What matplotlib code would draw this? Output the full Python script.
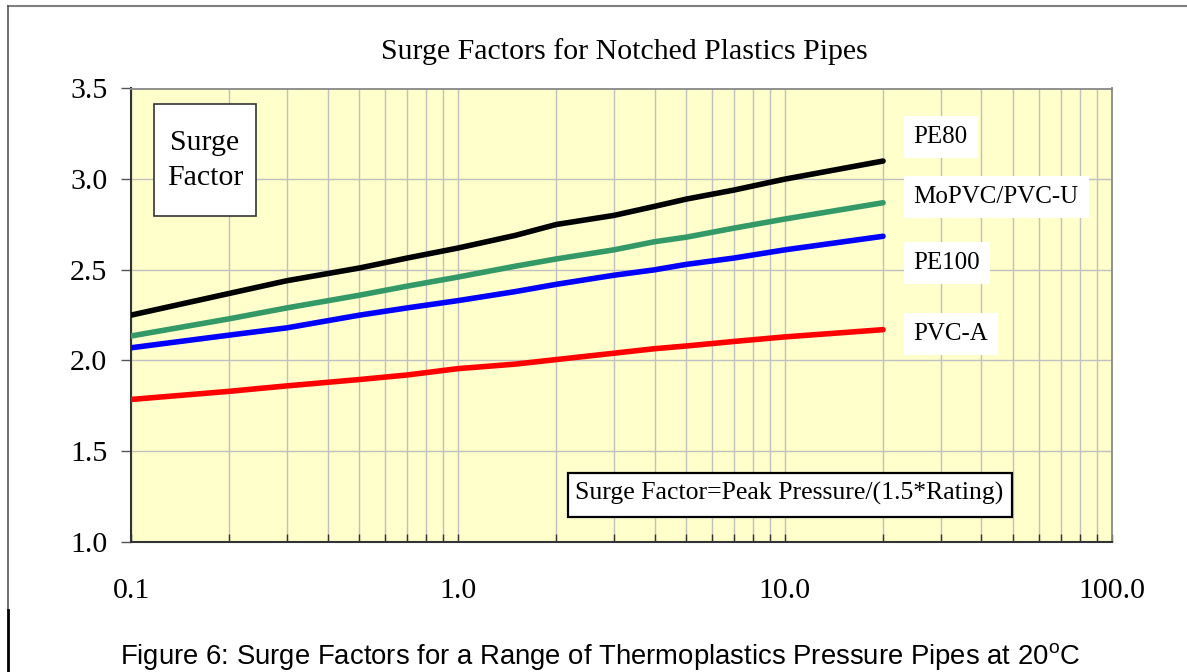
import matplotlib
matplotlib.use("Agg")
import matplotlib.pyplot as plt
from matplotlib.patches import Rectangle
from matplotlib.lines import Line2D
from matplotlib.ticker import LogLocator, FixedLocator, FuncFormatter, NullFormatter

# ---- data ----
pressure_ratio = [0.1, 0.2, 0.3, 0.5, 0.7, 1.0, 1.5, 2, 3, 4, 5, 7, 10, 20]
pe80 = [2.25, 2.37, 2.44, 2.51, 2.565, 2.62, 2.69, 2.75, 2.80, 2.85, 2.89, 2.94, 3.00, 3.10]
mopvc = [2.135, 2.23, 2.29, 2.36, 2.41, 2.46, 2.52, 2.56, 2.61, 2.655, 2.68, 2.73, 2.78, 2.87]
pe100 = [2.07, 2.14, 2.18, 2.25, 2.29, 2.33, 2.38, 2.42, 2.47, 2.50, 2.53, 2.565, 2.61, 2.685]
pvca = [1.785, 1.83, 1.86, 1.895, 1.92, 1.955, 1.98, 2.005, 2.04, 2.065, 2.08, 2.105, 2.13, 2.17]
series_names = ["PE80", "MoPVC/PVC-U", "PE100", "PVC-A"]
series_values = [pe80, mopvc, pe100, pvca]
series_colors = ["#000000", "#339966", "#0000FF", "#FF0000"]
label_y = [3.23, 2.90, 2.54, 2.145]
x_ticks = [0.1, 1.0, 10.0, 100.0]
y_ticks = [1.0, 1.5, 2.0, 2.5, 3.0, 3.5]

serif = "Liberation Serif"

fig = plt.figure(figsize=(11.87, 6.72), dpi=100)
ax = fig.add_axes([131 / 1187, 1 - 541.8 / 672, 980.5 / 1187, 453.3 / 672])
ax.set_facecolor("#FFFFCC")

for name, vals, col in zip(series_names, series_values, series_colors):
    ax.plot(pressure_ratio, vals, color=col, lw=4.0, solid_capstyle="round",
            solid_joinstyle="round", zorder=3)

ax.set_xscale("log")
ax.set_xlim(0.1, 100)
ax.set_ylim(1.0, 3.5)

ax.xaxis.set_major_locator(FixedLocator(x_ticks))
ax.xaxis.set_minor_locator(LogLocator(base=10, subs=range(2, 10)))
ax.xaxis.set_major_formatter(FuncFormatter(lambda v, p: f"{v:.1f}"))
ax.xaxis.set_minor_formatter(NullFormatter())
ax.yaxis.set_major_locator(FixedLocator(y_ticks))
ax.yaxis.set_major_formatter(FuncFormatter(lambda v, p: f"{v:.1f}"))

ax.grid(True, which="both", axis="x", color="#C0C0C0", lw=1.0, zorder=0)
ax.grid(True, which="major", axis="y", color="#C0C0C0", lw=1.0, zorder=0)
ax.set_axisbelow(True)

ax.tick_params(axis="x", which="both", direction="in", length=6, width=1.0,
               color="#333333", pad=26)
ax.tick_params(axis="x", which="major", labelsize=21.5)
ax.tick_params(axis="y", which="major", direction="out", length=7, width=1.0,
               color="#555555", pad=10, labelsize=21.5)
for lab in ax.get_xticklabels() + ax.get_yticklabels():
    lab.set_fontfamily(serif)

for side in ["left", "bottom"]:
    ax.spines[side].set_color("#333333")
    ax.spines[side].set_linewidth(1.5)
for side in ["top", "right"]:
    ax.spines[side].set_color("#888888")
    ax.spines[side].set_linewidth(1.3)

# series labels
for name, ly in zip(series_names, label_y):
    ax.text(24.8, ly, name, fontsize=18, family=serif, ha="left", va="center",
            bbox=dict(facecolor="white", edgecolor="none", boxstyle="square,pad=0.4"),
            zorder=4)

# Surge Factor box
ax.add_patch(Rectangle((0.0238, 0.7187), 0.1034, 0.2465, transform=ax.transAxes,
                       facecolor="white", edgecolor="#333333", lw=1.2, zorder=4))
ax.text(0.0755, 0.842, "Surge\nFactor", transform=ax.transAxes, fontsize=21.5,
        family=serif, ha="center", va="center", linespacing=1.45, zorder=5)

# formula box
ax.add_patch(Rectangle((0.4452, 0.0547), 0.4533, 0.0971, transform=ax.transAxes,
                       facecolor="white", edgecolor="#000000", lw=1.6, zorder=4))
ax.text(0.671, 0.0922, "Surge Factor=Peak Pressure/(1.5*Rating)", transform=ax.transAxes,
        fontsize=18.5, family=serif, ha="center", va="baseline", zorder=5)

# title
fig.text(624.5 / 1187, 1 - 52 / 672, "Surge Factors for Notched Plastics Pipes",
         fontsize=21.5, family=serif, ha="center", va="center")

# caption
fig.text(120 / 1187, 1 - 657 / 672,
         "Figure 6: Surge Factors for a Range of Thermoplastics Pressure Pipes at 20$^{\\mathregular{o}}$C",
         fontsize=19.8, family="Liberation Sans", ha="left", va="center")

# outer frame fragments
fig.add_artist(Line2D([8 / 1187, 1.0], [1 - 6 / 672, 1 - 6 / 672], color="#808080", lw=1.5))
fig.add_artist(Line2D([8 / 1187, 8 / 1187], [1 - 6 / 672, 1 - 610 / 672], color="#555555", lw=1.2))
fig.add_artist(Line2D([8 / 1187, 8 / 1187], [1 - 610 / 672, 0.0], color="#000000", lw=2.0))

fig.savefig("out.png", dpi=100)
